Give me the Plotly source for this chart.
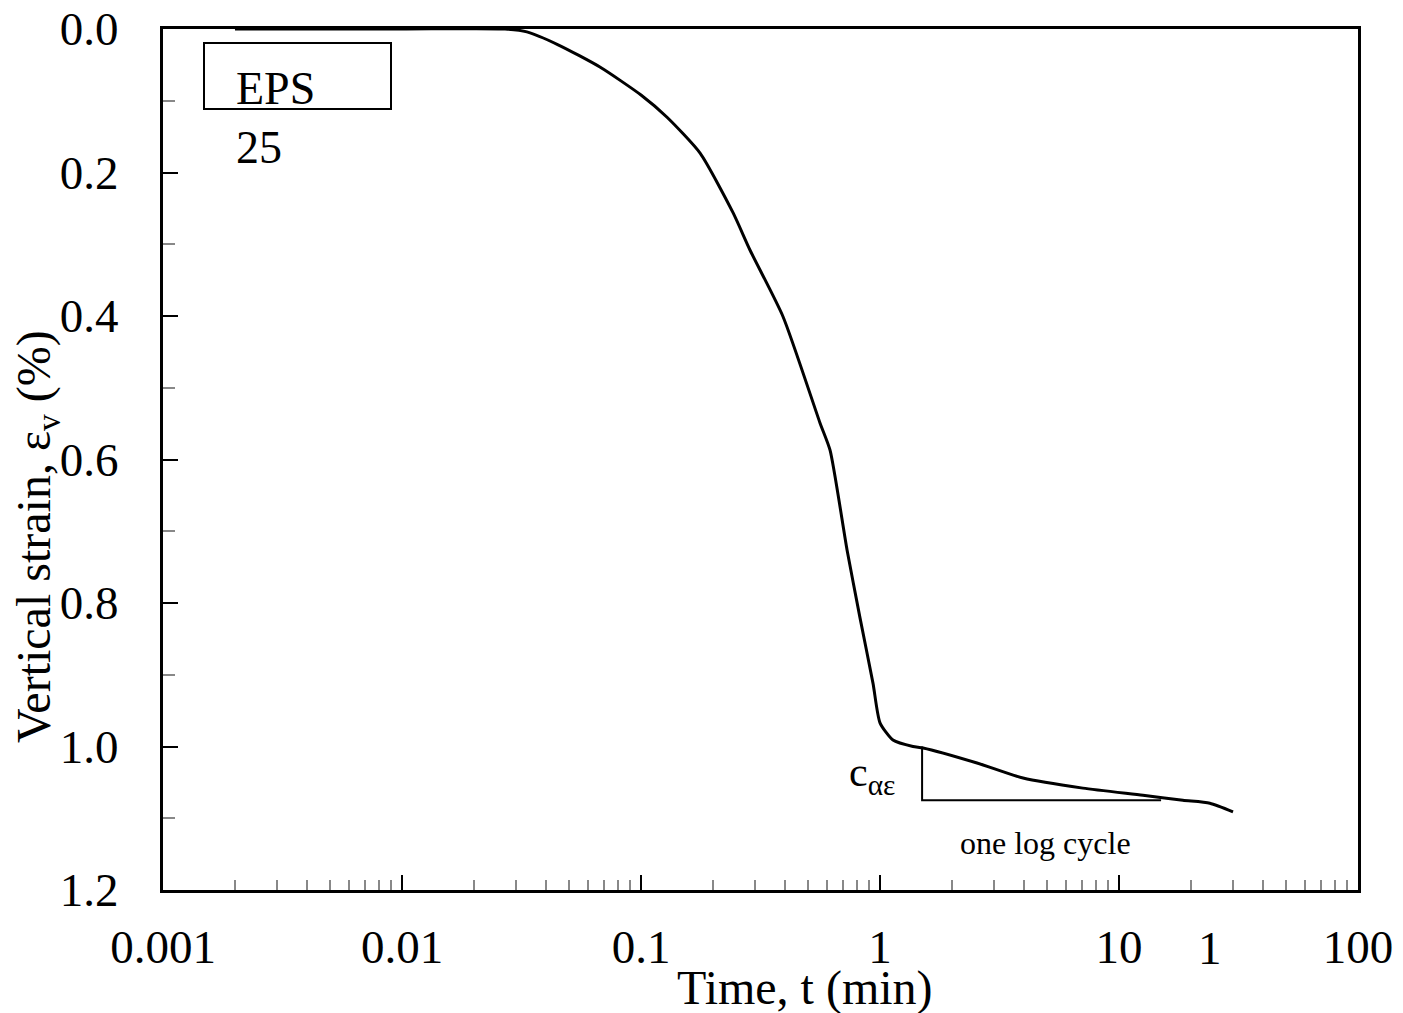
import plotly.graph_objects as go

# Data
time_min = [0.002, 0.01, 0.027, 0.0333, 0.045, 0.0673, 0.1, 0.1285, 0.1767, 0.2427,
            0.2857, 0.393, 0.561, 0.618, 0.728, 0.824, 0.935, 1.0, 1.133, 1.374,
            1.514, 2.547, 3.967, 7.06, 12.6, 18.5, 24.0, 30.0]
strain_pct = [0.0, 0.0, 0.0, 0.004, 0.022, 0.053, 0.092, 0.123, 0.173, 0.256,
              0.308, 0.401, 0.549, 0.587, 0.726, 0.820, 0.912, 0.967, 0.991, 1.0,
              1.002, 1.023, 1.044, 1.058, 1.068, 1.075, 1.079, 1.091]

triangle_t = [1.5, 1.5, 15.0]
triangle_eps = [1.0, 1.075, 1.075]

x_tickvals = [0.001, 0.01, 0.1, 1, 10, 100]
x_ticktext = ["0.001", "0.01", "0.1", "1", "10", "100"]
y_tickvals = [0.0, 0.2, 0.4, 0.6, 0.8, 1.0, 1.2]
y_ticktext = ["0.0", "0.2", "0.4", "0.6", "0.8", "1.0", "1.2"]
x_minor = [m * 10 ** e for e in range(-3, 2) for m in range(2, 10)]

FONT = "Liberation Serif"

fig = go.Figure()
fig.add_trace(go.Scatter(x=time_min, y=strain_pct, mode="lines",
                         line=dict(color="black", width=3, shape="spline", smoothing=0.6),
                         showlegend=False, hoverinfo="skip"))
fig.add_trace(go.Scatter(x=triangle_t, y=triangle_eps, mode="lines",
                         line=dict(color="black", width=2),
                         showlegend=False, hoverinfo="skip"))

W, H = 1403, 1013
L, R, T, B = 163, 45, 29, 123

fig.update_layout(
    width=W, height=H,
    margin=dict(l=L, r=R, t=T, b=B, autoexpand=False),
    paper_bgcolor="white", plot_bgcolor="white",
    font=dict(family=FONT, size=47, color="black"),
    showlegend=False,
)
fig.update_xaxes(
    type="log", range=[-3, 2],
    tickmode="array", tickvals=x_tickvals, ticktext=x_ticktext,
    ticks="inside", ticklen=15, tickwidth=2, tickcolor="black",
    showline=True, linecolor="black", linewidth=3, mirror=True,
    showgrid=False, zeroline=False,
    ticklabelstandoff=14,
    tickfont=dict(family=FONT, size=47, color="black"),
    minor=dict(tickmode="array", tickvals=x_minor, ticks="inside", ticklen=10,
               tickwidth=1.5, tickcolor="#888888", showgrid=False),
)
fig.update_yaxes(
    range=[1.2, 0.0],
    tickmode="array", tickvals=y_tickvals, ticktext=y_ticktext,
    ticks="inside", ticklen=15, tickwidth=2, tickcolor="black",
    showline=True, linecolor="black", linewidth=3, mirror=True,
    showgrid=False, zeroline=False,
    ticklabelstandoff=32,
    tickfont=dict(family=FONT, size=47, color="black"),
    minor=dict(dtick=0.1, ticks="inside", ticklen=12, tickwidth=1.5,
               tickcolor="#888888", showgrid=False),
)

pw, ph = W - L - R, H - T - B
def px(xp):
    return (xp - L) / pw
def py(yp):
    return (H - B - yp) / ph

# EPS box
fig.add_shape(type="rect", xref="paper", yref="paper",
              x0=px(204), x1=px(391), y0=py(109), y1=py(43),
              line=dict(color="black", width=2), fillcolor="rgba(0,0,0,0)")

ann = [
    dict(text="EPS", x=px(234), y=py(88), xanchor="left", yanchor="middle",
         font=dict(size=46)),
    dict(text="25", x=px(234), y=py(147), xanchor="left", yanchor="middle",
         font=dict(size=46)),
    dict(text="c<sub>αε</sub>", x=px(897), y=py(775), xanchor="right", yanchor="middle",
         font=dict(size=42)),
    dict(text="one log cycle", x=px(1045), y=py(843), xanchor="center", yanchor="middle",
         font=dict(size=32)),
    dict(text="1", x=px(1210), y=py(948), xanchor="center", yanchor="middle",
         font=dict(size=47)),
    dict(text="Time, t (min)", x=px(805), y=py(988), xanchor="center", yanchor="middle",
         font=dict(size=48)),
    dict(text="Vertical strain, ε<sub>v</sub> (%)", x=px(37), y=py(537),
         xanchor="center", yanchor="middle", textangle=-90, font=dict(size=48)),
]
for a in ann:
    a.update(xref="paper", yref="paper", showarrow=False)
    a["font"] = dict(family=FONT, color="black", **a["font"])
    fig.add_annotation(**a)

fig.write_html("out.html")
